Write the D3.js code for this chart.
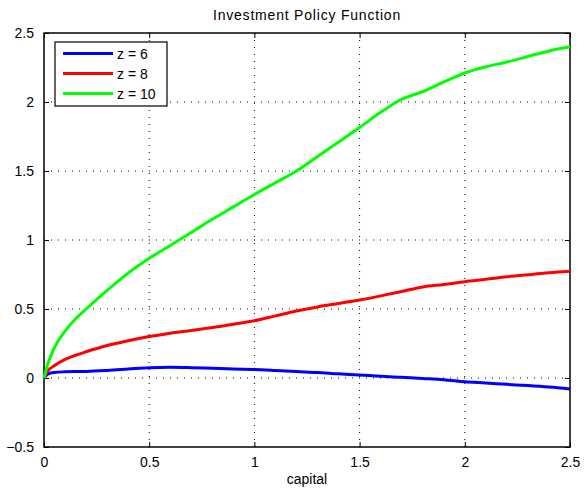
<!DOCTYPE html>
<html>
<head>
<meta charset="utf-8">
<script src="https://cdn.jsdelivr.net/npm/d3@7"></script>
<style>
  html, body { margin: 0; padding: 0; background: #fff; }
  text { font-family: "Liberation Sans", Arial, sans-serif; fill: #000; }
</style>
</head>
<body>
<svg id="chart" width="584" height="489"></svg>
<script>
const capital = [0, 0.02, 0.05, 0.1, 0.15, 0.2, 0.3, 0.4, 0.5, 0.6, 0.7, 0.8, 0.9, 1.0, 1.1, 1.2, 1.3, 1.4, 1.5, 1.6, 1.7, 1.8, 1.9, 2.0, 2.1, 2.2, 2.3, 2.4, 2.5];
const z6  = [0, 0.03, 0.04, 0.045, 0.047, 0.048, 0.055, 0.065, 0.075, 0.078, 0.075, 0.07, 0.065, 0.062, 0.055, 0.047, 0.04, 0.03, 0.022, 0.012, 0.005, -0.003, -0.012, -0.027, -0.036, -0.046, -0.055, -0.066, -0.08];
const z8  = [0, 0.055, 0.09, 0.135, 0.165, 0.19, 0.235, 0.27, 0.30, 0.325, 0.345, 0.366, 0.39, 0.415, 0.45, 0.485, 0.515, 0.54, 0.565, 0.595, 0.627, 0.66, 0.678, 0.698, 0.715, 0.733, 0.748, 0.762, 0.773];
const z10 = [0, 0.11, 0.22, 0.34, 0.43, 0.50, 0.635, 0.76, 0.867, 0.96, 1.055, 1.15, 1.24, 1.33, 1.415, 1.50, 1.605, 1.71, 1.815, 1.925, 2.02, 2.075, 2.145, 2.21, 2.255, 2.29, 2.33, 2.37, 2.40];
const seriesNames = ["z = 6", "z = 8", "z = 10"];
const seriesColors = ["#0000ff", "#ff0000", "#00ff00"];
const xTicks = [0, 0.5, 1, 1.5, 2, 2.5];
const yTicks = [-0.5, 0, 0.5, 1, 1.5, 2, 2.5];

const svg = d3.select("#chart");
const L = 44, R = 570, T = 33, B = 447;
const x = d3.scaleLinear().domain([0, 2.5]).range([L, R]);
const y = d3.scaleLinear().domain([-0.5, 2.5]).range([B, T]);

// grid
const grid = svg.append("g");
xTicks.forEach(t => {
  if (t > 0 && t < 2.5) grid.append("line").attr("x1", x(t)).attr("x2", x(t)).attr("y1", T).attr("y2", B)
    .attr("stroke", "#000").attr("stroke-width", 1).attr("stroke-dasharray", "1,6");
});
yTicks.forEach(t => {
  if (t > -0.5 && t < 2.5) grid.append("line").attr("x1", L).attr("x2", R).attr("y1", y(t)).attr("y2", y(t))
    .attr("stroke", "#000").attr("stroke-width", 1).attr("stroke-dasharray", "1,6");
});

// axes with inward ticks
const axB = d3.axisBottom(x).tickValues(xTicks).tickSize(-5).tickPadding(10).tickFormat(d3.format("~g"));
const axT = d3.axisTop(x).tickValues(xTicks).tickSize(-5).tickFormat("");
const axLft = d3.axisLeft(y).tickValues(yTicks).tickSize(-5).tickPadding(10).tickFormat(d3.format("~g"));
const axRt = d3.axisRight(y).tickValues(yTicks).tickSize(-5).tickFormat("");
function style(g) {
  g.select(".domain").attr("stroke", "#000").attr("stroke-width", 1.5);
  g.selectAll(".tick line").attr("stroke", "#000");
  g.selectAll("text").style("font-size", "14px").attr("fill", "#000");
}
svg.append("g").attr("transform", `translate(0,${B})`).call(axB).call(style);
svg.append("g").attr("transform", `translate(0,${T})`).call(axT).call(style);
svg.append("g").attr("transform", `translate(${L},0)`).call(axLft).call(style);
svg.append("g").attr("transform", `translate(${R},0)`).call(axRt).call(style);
svg.selectAll(".domain").attr("d", null);
svg.append("rect").attr("x", L).attr("y", T).attr("width", R - L).attr("height", B - T)
  .attr("fill", "none").attr("stroke", "#000").attr("stroke-width", 1.5);

// lines
const data = [z6, z8, z10];
const line = d3.line().x((d, i) => x(capital[i])).y(d => y(d)).curve(d3.curveMonotoneX);
data.forEach((s, k) => {
  svg.append("path").datum(s).attr("d", line).attr("fill", "none")
    .attr("stroke", seriesColors[k]).attr("stroke-width", 3).attr("stroke-linejoin", "round");
});

// title and labels
svg.append("text").attr("x", 307).attr("y", 20).attr("text-anchor", "middle")
  .style("font-size", "14px").style("letter-spacing", "0.8px").text("Investment Policy Function");
svg.append("text").attr("x", 307).attr("y", 484).attr("text-anchor", "middle").style("font-size", "14px").text("capital");

// legend
const lg = svg.append("g");
lg.append("rect").attr("x", 55).attr("y", 42).attr("width", 112).attr("height", 64)
  .attr("fill", "#fff").attr("stroke", "#000").attr("stroke-width", 1.2);
seriesNames.forEach((n, k) => {
  const yy = 53.5 + k * 20;
  lg.append("line").attr("x1", 63).attr("x2", 113).attr("y1", yy).attr("y2", yy)
    .attr("stroke", seriesColors[k]).attr("stroke-width", 3);
  lg.append("text").attr("x", 117).attr("y", yy + 5).style("font-size", "14px").text(n);
});
</script>
</body>
</html>
